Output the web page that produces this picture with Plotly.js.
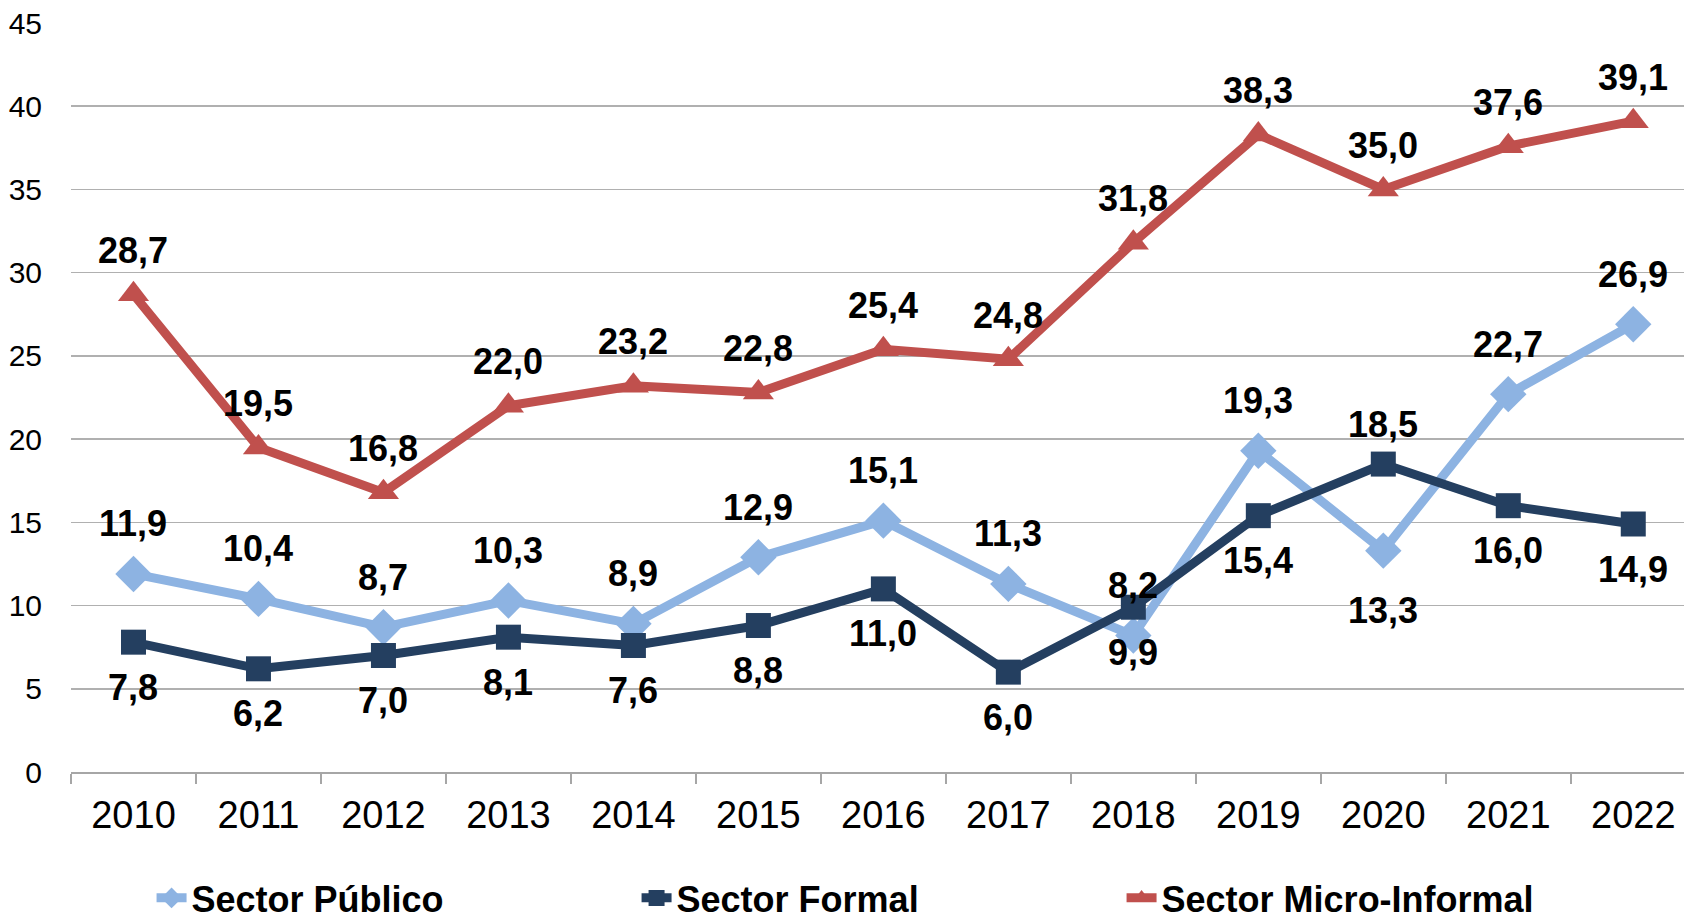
<!DOCTYPE html>
<html>
<head>
<meta charset="utf-8">
<script src="https://cdn.plot.ly/plotly-3.0.1.min.js"></script>
<style>html,body{margin:0;padding:0;background:#fff;overflow:hidden;}#chart{width:1684px;height:921px;}</style>
</head>
<body>
<div id="chart"></div>
<script>
const years = ['2010','2011','2012','2013','2014','2015','2016','2017','2018','2019','2020','2021','2022'];
const publico = [11.9, 10.4, 8.7, 10.3, 8.9, 12.9, 15.1, 11.3, 8.2, 19.3, 13.3, 22.7, 26.9];
const formal = [7.8, 6.2, 7.0, 8.1, 7.6, 8.8, 11.0, 6.0, 9.9, 15.4, 18.5, 16.0, 14.9];
const micro = [28.7, 19.5, 16.8, 22.0, 23.2, 22.8, 25.4, 24.8, 31.8, 38.3, 35.0, 37.6, 39.1];
const publicoPos = ['top','top','top','top','top','top','top','top','top','top','bottom','top','top'];
const formalPos = ['bottom','bottom','bottom','bottom','bottom','bottom','bottom','bottom','bottom','bottom','top','bottom','bottom'];
const microPos = years.map(() => 'top');

const fmt = v => v.toFixed(1).replace('.', ',');
const FONT = 'Liberation Sans, Arial, sans-serif';
const labelFont = {family: FONT, size: 36, color: '#000', weight: 700};

function series(name, vals, color, symbol, size) {
  return {
    type: 'scatter', mode: 'lines+markers', name: name,
    x: years, y: vals,
    line: {color: color, width: 9},
    marker: {color: color, symbol: symbol, size: size},
    cliponaxis: false,
    hoverinfo: 'skip'
  };
}

// category axis: annotation x is the category index
function labels(vals, pos, upShift, downShift) {
  return vals.map((v, i) => ({
    x: i, y: v, xref: 'x', yref: 'y',
    text: fmt(v), showarrow: false, font: labelFont,
    xanchor: 'center', yanchor: 'middle',
    yshift: pos[i] === 'top' ? upShift : -downShift
  }));
}

const data = [
  series('Sector Público', publico, '#8DB3E2', 'diamond', 28),
  series('Sector Formal', formal, '#243F60', 'square', 25),
  series('Sector Micro-Informal', micro, '#C0504D', 'triangle-up', 27)
];

const annotations = [].concat(
  labels(publico, publicoPos, 50, 60),
  labels(formal, formalPos, 40, 45),
  labels(micro, microPos, 44, 44)
);

const layout = {
  width: 1684, height: 921,
  margin: {l: 71, r: 0, t: 23, b: 149},
  paper_bgcolor: '#fff', plot_bgcolor: '#fff',
  showlegend: true,
  annotations: annotations,
  legend: {
    orientation: 'h', xref: 'container', yref: 'container',
    x: 0.09, xanchor: 'left', y: 0.025, yanchor: 'middle',
    font: {family: FONT, size: 36, color: '#000', weight: 700},
    entrywidth: 440, itemwidth: 30, tracegroupgap: 0
  },
  xaxis: {
    type: 'category', range: [-0.5, 12.406],
    showgrid: false, showline: true, linecolor: '#A6A6A6', linewidth: 1.5,
    ticks: 'outside', tickson: 'boundaries', ticklen: 10, tickcolor: '#A6A6A6', tickwidth: 1.5,
    ticklabelstandoff: 9,
    tickfont: {family: FONT, size: 38, color: '#000'},
    zeroline: false, fixedrange: true, automargin: false
  },
  yaxis: {
    range: [0, 45], dtick: 5, tick0: 0,
    showgrid: true, gridcolor: '#B0B0B0', gridwidth: 1.5,
    showline: false, zeroline: false,
    ticks: 'outside', ticklen: 22, tickcolor: 'rgba(0,0,0,0)',
    tickfont: {family: FONT, size: 30, color: '#000'},
    fixedrange: true, automargin: false
  }
};

Plotly.newPlot('chart', data, layout, {displayModeBar: false, staticPlot: true});
</script>
</body>
</html>
